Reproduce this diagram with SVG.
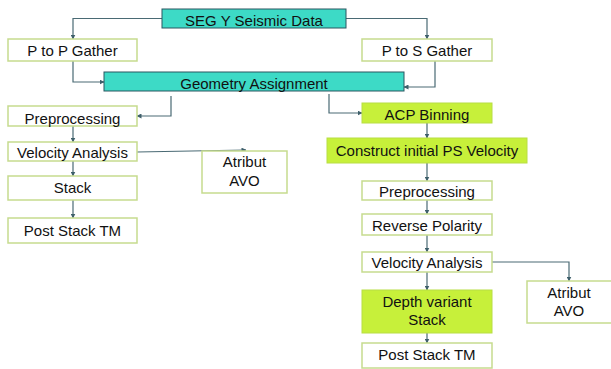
<svg xmlns="http://www.w3.org/2000/svg" width="611" height="369" viewBox="0 0 611 369">
<defs>
<marker id="ah" viewBox="0 0 10 10" refX="9" refY="5" markerWidth="5" markerHeight="5" orient="auto" markerUnits="userSpaceOnUse">
<path d="M0,0 L10,5 L0,10 z" fill="#3E5F6A"/>
</marker>
<style>
.teal{fill:#3DDAC6;stroke:#2B5660;stroke-width:1}
.lime{fill:#C7F03A;stroke:#B8DE44;stroke-width:1}
.white{fill:#FFFFFF;stroke:#C6DB8E;stroke-width:1.5}
text{font-family:"Liberation Sans",Arial,sans-serif;font-size:15px;fill:#111;text-anchor:middle}
.conn path{fill:none;stroke:#4A6A74;stroke-width:1.2;marker-end:url(#ah)}
</style>
</defs>
<rect width="611" height="369" fill="#FFFFFF"/>
<g class="conn">
<path d="M162,18.5 H73 V39"/>
<path d="M346,18.5 H427 V39"/>
<path d="M73,61 V82 H104"/>
<path d="M435,61 V87 H404"/>
<path d="M171,96 V116 H137"/>
<path d="M329,94 V113 H362"/>
<path d="M73,126 V142"/>
<path d="M73,161 V176"/>
<path d="M73,200 V218"/>
<path d="M137,152 L246,150"/>
<path d="M427,123 V138"/>
<path d="M427,163 V181"/>
<path d="M427,200 V214"/>
<path d="M427,235 V252"/>
<path d="M427,272 V290"/>
<path d="M427,333 V343"/>
<path d="M492,262 H569 V281"/>
</g>
<g id="seg"><rect class="teal" x="162" y="9" width="184" height="19"/><text x="254" y="26">SEG Y Seismic Data</text></g>
<g id="ptop"><rect class="white" x="8" y="39" width="129" height="22"/><text x="72.5" y="56">P to P Gather</text></g>
<g id="ptos"><rect class="white" x="362" y="39" width="130" height="22"/><text x="427" y="56">P to S Gather</text></g>
<g id="geom"><rect class="teal" x="104" y="72" width="300" height="19"/><text x="254" y="89">Geometry Assignment</text></g>
<g id="prepL"><rect class="white" x="8" y="106" width="129" height="20"/><text x="72.5" y="124">Preprocessing</text></g>
<g id="velL"><rect class="white" x="8" y="142" width="129" height="19"/><text x="72.5" y="158">Velocity Analysis</text></g>
<g id="stackL"><rect class="white" x="8" y="176" width="129" height="24"/><text x="72.5" y="193">Stack</text></g>
<g id="postL"><rect class="white" x="8" y="218" width="129" height="25"/><text x="72.5" y="236">Post Stack TM</text></g>
<g id="avoL"><rect class="white" x="202" y="151" width="85" height="42"/><text x="244.5" y="167">Atribut</text><text x="244.5" y="186">AVO</text></g>
<g id="acp"><rect class="lime" x="362" y="103" width="130" height="20"/><text x="427" y="120">ACP Binning</text></g>
<g id="cipv"><rect class="lime" x="327" y="138" width="200" height="25"/><text x="427" y="156">Construct initial PS Velocity</text></g>
<g id="prepR"><rect class="white" x="362" y="181" width="130" height="19"/><text x="427" y="197">Preprocessing</text></g>
<g id="rev"><rect class="white" x="362" y="214" width="130" height="21"/><text x="427" y="231">Reverse Polarity</text></g>
<g id="velR"><rect class="white" x="362" y="252" width="130" height="20"/><text x="427" y="268">Velocity Analysis</text></g>
<g id="dvs"><rect class="lime" x="362" y="290" width="130" height="43"/><text x="427" y="307">Depth variant</text><text x="427" y="325">Stack</text></g>
<g id="postR"><rect class="white" x="362" y="343" width="130" height="25"/><text x="427" y="360">Post Stack TM</text></g>
<g id="avoR"><rect class="white" x="527" y="281" width="90" height="42"/><text x="569" y="298">Atribut</text><text x="569" y="316">AVO</text></g>
</svg>
